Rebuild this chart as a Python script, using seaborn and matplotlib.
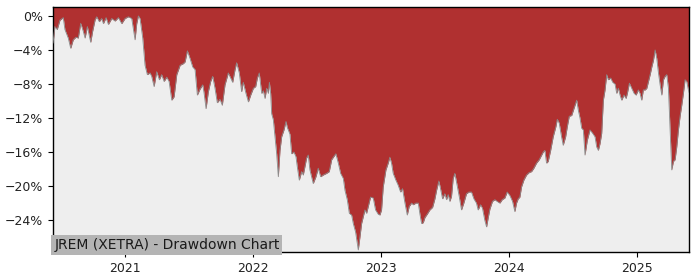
import numpy as np
import pandas as pd
import matplotlib
matplotlib.use("Agg")
import matplotlib.pyplot as plt
import matplotlib.ticker as mticker
import seaborn as sns

# Decimal-year positions of traced points
years = [
    2020.438, 2020.453, 2020.471, 2020.492, 2020.518, 2020.531, 2020.557, 2020.576,
    2020.596, 2020.617, 2020.635, 2020.654, 2020.674, 2020.688, 2020.706, 2020.732,
    2020.747, 2020.766, 2020.779, 2020.799, 2020.818, 2020.831, 2020.852, 2020.870,
    2020.896, 2020.922, 2020.948, 2020.974, 2021.000, 2021.026, 2021.052, 2021.078,
    2021.091, 2021.104, 2021.117, 2021.138, 2021.156, 2021.174, 2021.195, 2021.208,
    2021.227, 2021.247, 2021.268, 2021.286, 2021.305, 2021.326, 2021.344, 2021.365,
    2021.383, 2021.404, 2021.430, 2021.456, 2021.469, 2021.487, 2021.508, 2021.529,
    2021.547, 2021.565, 2021.586, 2021.607, 2021.617, 2021.633, 2021.651, 2021.669,
    2021.685, 2021.703, 2021.721, 2021.742, 2021.760, 2021.781, 2021.807, 2021.826,
    2021.841, 2021.859, 2021.872, 2021.893, 2021.911, 2021.924, 2021.945, 2021.964,
    2021.982, 2022.003, 2022.021, 2022.034, 2022.049, 2022.068, 2022.081, 2022.094,
    2022.107, 2022.120, 2022.128, 2022.138, 2022.146, 2022.159, 2022.172, 2022.185,
    2022.198, 2022.211, 2022.224, 2022.242, 2022.258, 2022.268, 2022.289, 2022.302,
    2022.320, 2022.336, 2022.346, 2022.362, 2022.380, 2022.393, 2022.406, 2022.419,
    2022.432, 2022.445, 2022.458, 2022.471, 2022.492, 2022.510, 2022.529, 2022.549,
    2022.576, 2022.596, 2022.615, 2022.633, 2022.648, 2022.667, 2022.685, 2022.706,
    2022.719, 2022.737, 2022.753, 2022.771, 2022.784, 2022.802, 2022.823, 2022.836,
    2022.849, 2022.862, 2022.875, 2022.888, 2022.901, 2022.919, 2022.940, 2022.958,
    2022.979, 2022.992, 2023.005, 2023.018, 2023.039, 2023.057, 2023.070, 2023.083,
    2023.096, 2023.117, 2023.135, 2023.154, 2023.169, 2023.188, 2023.206, 2023.221,
    2023.240, 2023.253, 2023.273, 2023.292, 2023.305, 2023.318, 2023.331, 2023.344,
    2023.362, 2023.383, 2023.404, 2023.422, 2023.435, 2023.453, 2023.466, 2023.482,
    2023.500, 2023.513, 2023.526, 2023.539, 2023.552, 2023.565, 2023.578, 2023.596,
    2023.612, 2023.630, 2023.648, 2023.669, 2023.688, 2023.708, 2023.727, 2023.747,
    2023.760, 2023.779, 2023.794, 2023.812, 2023.826, 2023.839, 2023.852, 2023.872,
    2023.891, 2023.909, 2023.930, 2023.948, 2023.969, 2023.987, 2024.008, 2024.029,
    2024.047, 2024.060, 2024.073, 2024.086, 2024.099, 2024.117, 2024.138, 2024.159,
    2024.177, 2024.195, 2024.216, 2024.237, 2024.268, 2024.281, 2024.294, 2024.307,
    2024.326, 2024.346, 2024.367, 2024.378, 2024.393, 2024.411, 2024.424, 2024.443,
    2024.456, 2024.471, 2024.490, 2024.503, 2024.516, 2024.529, 2024.542, 2024.555,
    2024.568, 2024.581, 2024.594, 2024.612, 2024.633, 2024.654, 2024.672, 2024.685,
    2024.698, 2024.711, 2024.724, 2024.737, 2024.750, 2024.763, 2024.776, 2024.794,
    2024.810, 2024.828, 2024.841, 2024.854, 2024.867, 2024.880, 2024.898, 2024.914,
    2024.924, 2024.940, 2024.958, 2024.977, 2024.992, 2025.010, 2025.023, 2025.036,
    2025.049, 2025.063, 2025.076, 2025.089, 2025.102, 2025.115, 2025.128, 2025.141,
    2025.154, 2025.167, 2025.180, 2025.193, 2025.206, 2025.219, 2025.232, 2025.245,
    2025.258, 2025.271, 2025.284, 2025.297, 2025.310, 2025.323, 2025.336, 2025.349,
    2025.362, 2025.375, 2025.388, 2025.401, 2025.406,
]

# Drawdown in percent
drawdown = [
    -3.2, -1.25, -1.6, -0.5, -0.2, -1.6, -2.6, -3.8,
    -2.8, -2.5, -2.6, -0.86, -1.8, -2.6, -1.25, -3.1,
    -1.8, -0.47, -0.1, -0.67, -0.3, -0.9, -0.2, -1.0,
    -0.3, -0.6, -0.2, -0.9, -0.3, -0.1, -0.3, -2.8,
    -0.9, 0.0, -0.3, -2.6, -5.8, -6.9, -6.7, -7.1,
    -8.3, -6.55, -7.5, -6.9, -7.7, -7.2, -7.7, -9.9,
    -9.5, -6.9, -5.8, -5.6, -5.4, -4.1, -5.0, -6.0,
    -6.3, -9.3, -8.6, -8.1, -9.0, -10.9, -8.9, -7.7,
    -7.1, -8.5, -10.2, -9.8, -10.5, -8.1, -6.7, -7.3,
    -7.8, -6.35, -5.5, -6.7, -8.9, -7.8, -9.1, -10.1,
    -9.3, -8.5, -8.3, -7.3, -6.7, -9.1, -8.8, -9.7,
    -8.5, -9.1, -7.8, -9.1, -11.5, -12.2, -14.2, -16.2,
    -18.9, -15.8, -14.2, -13.4, -12.4, -13.1, -13.9, -16.2,
    -16.0, -16.55, -17.7, -19.3, -18.3, -18.7, -17.7, -16.7,
    -16.35, -18.1, -18.9, -19.7, -18.9, -17.9, -18.9, -18.7,
    -18.5, -18.3, -16.9, -16.5, -16.2, -17.3, -18.5, -19.1,
    -20.5, -21.6, -23.2, -23.4, -24.4, -25.4, -27.5, -26.0,
    -24.4, -23.6, -22.8, -23.2, -22.4, -21.3, -21.4, -22.8,
    -23.3, -23.4, -22.8, -20.1, -18.1, -17.3, -16.6, -17.3,
    -18.5, -19.3, -19.9, -20.7, -20.3, -22.0, -23.4, -22.4,
    -22.0, -22.2, -22.0, -22.0, -23.3, -24.4, -24.3, -23.7,
    -23.3, -22.8, -22.5, -21.5, -20.5, -19.4, -20.3, -21.5,
    -20.9, -21.6, -21.0, -21.8, -21.2, -19.1, -18.5, -19.9,
    -21.2, -22.8, -22.0, -20.9, -20.7, -20.7, -21.5, -22.0,
    -22.8, -22.2, -22.6, -24.0, -24.8, -23.7, -22.7, -21.8,
    -21.6, -21.8, -22.0, -21.6, -21.4, -20.7, -21.1, -21.8,
    -23.0, -22.0, -21.5, -21.3, -20.1, -19.3, -18.7, -18.4,
    -18.3, -17.9, -17.3, -16.9, -16.0, -15.8, -17.3, -17.1,
    -15.8, -14.2, -13.0, -12.15, -12.6, -14.2, -15.2, -14.2,
    -13.0, -11.8, -11.7, -11.1, -10.5, -9.9, -11.1, -12.0,
    -13.2, -13.4, -16.35, -14.6, -13.4, -13.8, -14.2, -15.4,
    -15.8, -15.0, -13.8, -9.9, -8.7, -6.9, -7.5, -7.3,
    -7.8, -8.0, -9.1, -8.5, -9.3, -9.9, -9.3, -9.7,
    -9.1, -7.9, -8.5, -9.1, -9.3, -8.7, -9.1, -9.9,
    -8.7, -8.7, -8.5, -7.7, -6.9, -6.0, -5.2, -4.0,
    -5.0, -6.7, -8.1, -9.3, -7.5, -7.1, -6.9, -8.5,
    -13.4, -18.1, -17.1, -16.9, -15.4, -13.4, -11.8, -10.5,
    -9.1, -7.5, -7.7, -8.7, -9.0,
]

title_text = "JREM (XETRA) - Drawdown Chart"
y_ticks = [0, -4, -8, -12, -16, -20, -24]
x_tick_years = [2021, 2022, 2023, 2024, 2025]


def to_datetime(y):
    yr = int(np.floor(y))
    start = pd.Timestamp(year=yr, month=1, day=1)
    end = pd.Timestamp(year=yr + 1, month=1, day=1)
    return start + (end - start) * (y - yr)


df = pd.DataFrame({
    "date": [to_datetime(y) for y in years],
    "drawdown": drawdown,
})

sns.set_style("ticks")
plt.rcParams["font.family"] = ["DejaVu Sans"]

fig = plt.figure(figsize=(7.0, 2.8), dpi=100)
ax = fig.add_axes([0.0757, 0.1, 0.9086, 0.875])
ax.set_facecolor("#eeeeee")

ytop = 1.05
ybot = -27.75
ax.fill_between(df["date"], df["drawdown"], ytop, color="#b03030", linewidth=0, zorder=2)
sns.lineplot(data=df, x="date", y="drawdown", ax=ax, color="#8a8a8a",
             linewidth=0.6, zorder=3)

ax.set_xlim(df["date"].iloc[0], df["date"].iloc[-1])
ax.set_ylim(ybot, ytop)
ax.set_yticks(y_ticks)
ax.yaxis.set_major_formatter(mticker.FuncFormatter(
    lambda v, p: ("\u2212" if v < 0 else "") + f"{abs(v):.0f}%"))
ax.set_xticks([pd.Timestamp(year=y, month=1, day=1) for y in x_tick_years])
ax.set_xticklabels([str(y) for y in x_tick_years])
ax.set_xlabel("")
ax.set_ylabel("")
ax.tick_params(axis="both", labelsize=9, length=3.5, width=0.8, color="black",
               labelcolor="#222222", direction="out")
for s in ax.spines.values():
    s.set_visible(True)
    s.set_color("black")
    s.set_linewidth(1.0)

ax.text(0.002, 0.0, title_text, transform=ax.transAxes, fontsize=10,
        color="#1a1a1a", ha="left", va="bottom", zorder=5,
        bbox=dict(facecolor="#b4b4b4", edgecolor="none", pad=2.0))

fig.savefig("out.png", dpi=100)
